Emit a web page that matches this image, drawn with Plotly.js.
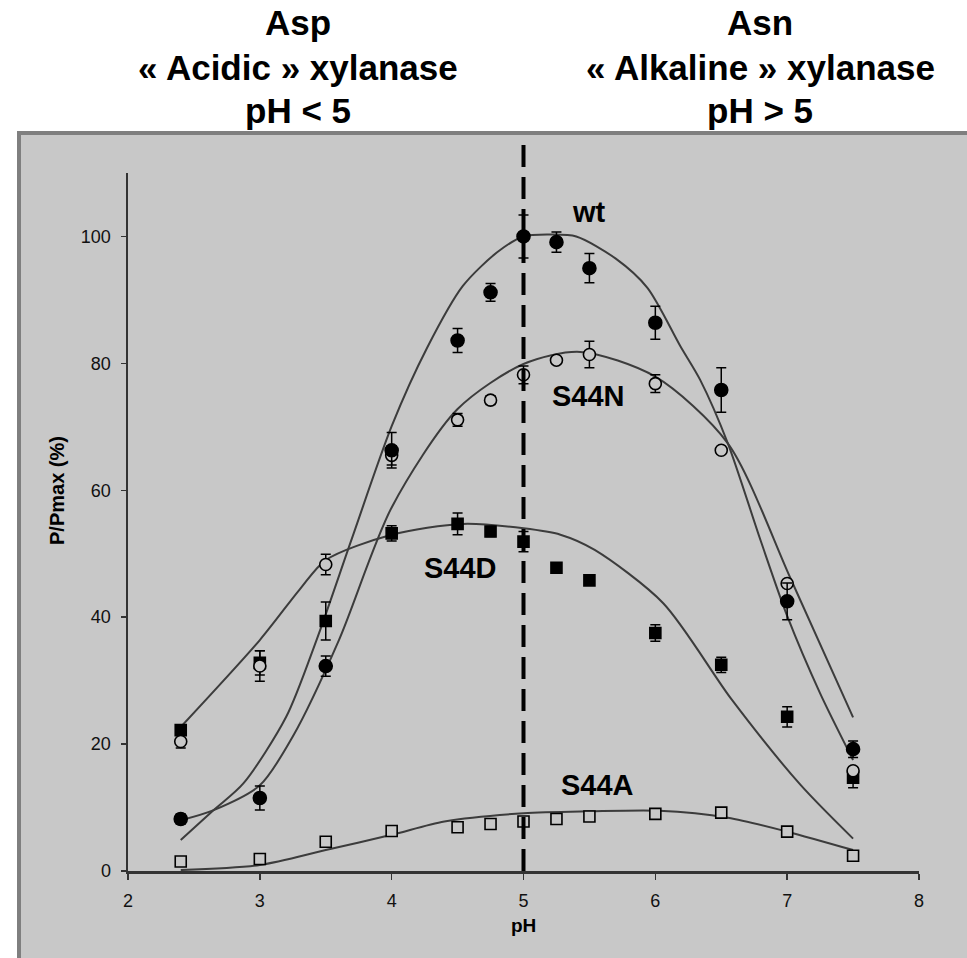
<!DOCTYPE html>
<html>
<head>
<meta charset="utf-8">
<script src="https://cdn.plot.ly/plotly-3.0.1.min.js"></script>
<style>
  html, body { margin: 0; padding: 0; background: #ffffff; }
  #chart { width: 967px; height: 958px; }
</style>
</head>
<body>
<div id="chart"></div>
<script>
// Measured activity (P/Pmax, %) versus pH for wild type and S44 mutants
const pH = [2.4, 3, 3.5, 4, 4.5, 4.75, 5, 5.25, 5.5, 6, 6.5, 7, 7.5];

const wt      = [8.2, 11.5, 32.3, 66.3, 83.6, 91.2, 100, 99.1, 95.0, 86.4, 75.8, 42.5, 19.2];
const wtErr   = [0.8, 1.9, 1.6, 2.8, 1.9, 1.4, 3.4, 1.6, 2.3, 2.6, 3.5, 2.9, 1.3];

const s44n    = [20.4, 32.3, 48.3, 65.5, 71.1, 74.2, 78.2, 80.5, 81.4, 76.8, 66.3, 45.3, 15.8];
const s44nErr = [1.0, 2.4, 1.6, 1.5, 1.0, 0.7, 1.4, 0.5, 2.1, 1.4, 0, 0, 0.5];

const s44d    = [22.2, 32.8, 39.4, 53.2, 54.7, 53.5, 51.9, 47.8, 45.8, 37.5, 32.5, 24.3, 14.7];
const s44dErr = [0.6, 1.9, 3.0, 1.2, 1.7, 0.8, 1.6, 0.5, 0.5, 1.3, 1.2, 1.6, 1.6];

const s44a    = [1.5, 1.9, 4.6, 6.3, 6.9, 7.4, 7.8, 8.2, 8.6, 9.0, 9.2, 6.2, 2.4];

// Fitted pH-activity curves
const wtFitPH   = [2.4, 2.65, 2.875, 3.2, 3.43, 3.7, 4.0, 4.27, 4.54, 4.8, 5.0, 5.2, 5.4, 5.7, 5.94, 6.19, 6.34, 6.55, 6.8, 7.0, 7.25, 7.5];
const wtFit     = [4.9, 9.6, 13.8, 24.3, 36.4, 52.5, 70.1, 82.5, 92.2, 97.5, 100, 100.3, 100, 96.5, 91.9, 82.7, 77.4, 67.4, 52, 40.2, 28, 17.5];

const s44nFitPH = [2.4, 2.65, 3.0, 3.25, 3.6, 4.0, 4.5, 5.0, 5.43, 6.0, 6.55, 7.03, 7.5];
const s44nFit   = [8.0, 9.6, 13.5, 21.2, 36.4, 57.3, 72.8, 79.9, 81.8, 77.9, 67.4, 45.9, 24.2];

const s44dFitPH = [2.4, 3.0, 3.3, 3.5, 4.0, 4.54, 5.0, 5.28, 5.54, 6.06, 6.58, 7.1, 7.5];
const s44dFit   = [22.7, 36.4, 44.3, 49.0, 53.0, 54.7, 54.0, 53.0, 50.6, 42.2, 27.0, 13.6, 5.1];

const s44aFitPH = [2.4, 3.0, 3.5, 4.0, 4.4, 5.0, 5.5, 6.03, 6.55, 7.0, 7.5];
const s44aFit   = [0.15, 0.95, 3.3, 5.7, 7.8, 9.1, 9.4, 9.5, 8.4, 6.2, 3.3];

// Switch point between the acidic and alkaline forms
const switchPH = 5;

const xTicks = [2, 3, 4, 5, 6, 7, 8];
const yTicks = [0, 20, 40, 60, 80, 100];

const curveNames = ['wt', 'S44N', 'S44D', 'S44A'];
const labelPH    = [5.5, 5.49, 4.52, 5.56];
const labelVal   = [103.9, 74.8, 47.8, 13.6];

const titleLeft  = ['Asp', '« Acidic » xylanase', 'pH < 5'];
const titleRight = ['Asn', '« Alkaline » xylanase', 'pH > 5'];

const BG = '#c8c8c8';
const CURVE = '#3c3c3c';
const FONT = 'Liberation Sans, Arial, Helvetica, sans-serif';

function fit(x, y) {
  return { x: x, y: y, type: 'scatter', mode: 'lines', hoverinfo: 'skip',
           line: { color: CURVE, width: 2, shape: 'spline', smoothing: 0.8 } };
}
function points(y, err, symbol, size, fill) {
  const t = { x: pH, y: y, type: 'scatter', mode: 'markers',
    marker: { symbol: symbol, size: size, color: fill, line: { color: '#000', width: 1.6 } } };
  if (err) t.error_y = { type: 'data', array: err, visible: true, color: '#000', thickness: 1.5, width: 5 };
  return t;
}

const traces = [
  fit(wtFitPH, wtFit),
  fit(s44nFitPH, s44nFit),
  fit(s44dFitPH, s44dFit),
  fit(s44aFitPH, s44aFit),
  points(s44a, null, 'square', 11, BG),
  points(s44d, s44dErr, 'square', 11, '#000'),
  points(s44n, s44nErr, 'circle', 12, BG),
  points(wt, wtErr, 'circle', 13, '#000')
];

// plot area: x 128..919, y 173..871 px
const L = 128, T = 173, W = 791, H = 698;
const px = v => (v - L) / W;
const py = v => (T + H - v) / H;

const annotations = [];
const titleRows = [22, 68, 110];
titleLeft.forEach((t, i) => annotations.push({
  text: '<b>' + t + '</b>', xref: 'paper', yref: 'paper', x: px(298), y: py(titleRows[i]),
  xanchor: 'center', yanchor: 'middle', showarrow: false, font: { family: FONT, size: 35, color: '#000' } }));
titleRight.forEach((t, i) => annotations.push({
  text: '<b>' + t + '</b>', xref: 'paper', yref: 'paper', x: px(760), y: py(titleRows[i]),
  xanchor: 'center', yanchor: 'middle', showarrow: false, font: { family: FONT, size: 35, color: '#000' } }));
curveNames.forEach((n, i) => annotations.push({
  text: '<b>' + n + '</b>', xref: 'x', yref: 'y', x: labelPH[i], y: labelVal[i],
  xanchor: 'center', yanchor: 'middle', showarrow: false, font: { family: FONT, size: 29, color: '#000' } }));
annotations.push({ text: '<b>P/Pmax (%)</b>', xref: 'paper', yref: 'paper', x: px(57), y: py(491),
  textangle: -90, xanchor: 'center', yanchor: 'middle', showarrow: false, font: { family: FONT, size: 20, color: '#000' } });
annotations.push({ text: '<b>pH</b>', xref: 'paper', yref: 'paper', x: px(523), y: py(925),
  xanchor: 'center', yanchor: 'middle', showarrow: false, font: { family: FONT, size: 19, color: '#000' } });

const layout = {
  width: 967, height: 958,
  margin: { l: L, r: 967 - L - W, t: T, b: 958 - T - H, pad: 0 },
  paper_bgcolor: '#ffffff',
  plot_bgcolor: 'rgba(0,0,0,0)',
  showlegend: false,
  xaxis: {
    range: [2, 8], tickvals: xTicks, ticktext: xTicks.map(String),
    showgrid: false, zeroline: false, showline: true, linecolor: '#333', linewidth: 2.5,
    ticks: 'outside', ticklen: 6, tickwidth: 1.5, tickcolor: '#333', ticklabelstandoff: 6,
    tickfont: { family: FONT, size: 18, color: '#111' }
  },
  yaxis: {
    range: [0, 110], tickvals: yTicks, ticktext: yTicks.map(String),
    showgrid: false, zeroline: false, showline: true, linecolor: '#333', linewidth: 2.5,
    ticks: 'outside', ticklen: 5, tickwidth: 1.5, tickcolor: '#333', ticklabelstandoff: 6,
    tickfont: { family: FONT, size: 18, color: '#111' }
  },
  shapes: [
    { type: 'rect', xref: 'paper', yref: 'paper', layer: 'below',
      x0: px(19), x1: px(980), y0: py(975), y1: py(133),
      fillcolor: BG, line: { color: '#7f7f7f', width: 4 } },
    { type: 'line', xref: 'x', yref: 'paper', layer: 'above',
      x0: switchPH, x1: switchPH, y0: 0, y1: py(135),
      line: { color: '#000', width: 4, dash: '22px,10px' } }
  ],
  annotations: annotations
};

Plotly.newPlot('chart', traces, layout, { displayModeBar: false, staticPlot: true });
</script>
</body>
</html>
